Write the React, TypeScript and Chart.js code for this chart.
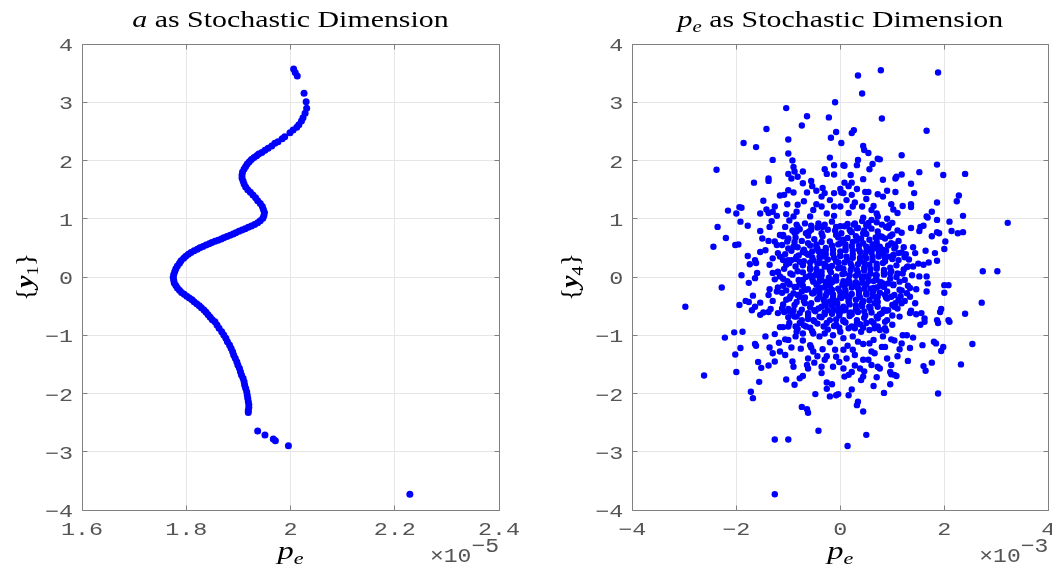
import React, { useEffect, useRef } from "react";
import { Chart, registerables } from "chart.js";

Chart.register(...registerables);

// ---- axes ----
const yTicks = [-4, -3, -2, -1, 0, 1, 2, 3, 4];
const yTickLabels = ["−4", "−3", "−2", "−1", "0", "1", "2", "3", "4"];

// left panel: p_e shown in units of 1e-5
const leftXTicks = [1.6, 1.8, 2.0, 2.2, 2.4];
const leftXTickLabels = ["1.6", "1.8", "2", "2.2", "2.4"];

// right panel: p_e shown in units of 1e-3
const rightXTicks = [-4, -2, 0, 2, 4];
const rightXTickLabels = ["−4", "−2", "0", "2", "4"];

// ---- samples ----
// a as stochastic dimension: (p_e ×1e-5, y1)
const curveA: [number, number][] = [
  [2.006, 3.571], [2.009, 3.511], [2.013, 3.451], [2.026, 3.154], [2.03, 3.009], [2.031, 2.896],
  [2.028, 2.81], [2.024, 2.735], [2.021, 2.678], [2.016, 2.615], [2.012, 2.57], [2.005, 2.524],
  [1.999, 2.477], [1.989, 2.409], [1.984, 2.374], [1.976, 2.323], [1.97, 2.295], [1.964, 2.249],
  [1.957, 2.209], [1.951, 2.175], [1.945, 2.137], [1.939, 2.112], [1.935, 2.082], [1.93, 2.052],
  [1.925, 2.017], [1.921, 1.979], [1.917, 1.94], [1.914, 1.897], [1.911, 1.854], [1.908, 1.803],
  [1.907, 1.751], [1.907, 1.7], [1.909, 1.648], [1.911, 1.597], [1.914, 1.545], [1.918, 1.499],
  [1.923, 1.454], [1.928, 1.408], [1.933, 1.361], [1.937, 1.31], [1.942, 1.262], [1.946, 1.21],
  [1.948, 1.159], [1.95, 1.107], [1.949, 1.056], [1.947, 1.008], [1.942, 0.967], [1.937, 0.932],
  [1.931, 0.901], [1.925, 0.876], [1.919, 0.853], [1.913, 0.829], [1.907, 0.807], [1.901, 0.785],
  [1.895, 0.761], [1.89, 0.738], [1.884, 0.716], [1.878, 0.695], [1.872, 0.675], [1.867, 0.652],
  [1.861, 0.632], [1.855, 0.613], [1.849, 0.591], [1.844, 0.57], [1.838, 0.548], [1.832, 0.525],
  [1.826, 0.501], [1.821, 0.477], [1.815, 0.45], [1.809, 0.421], [1.804, 0.391], [1.799, 0.357],
  [1.795, 0.321], [1.79, 0.28], [1.787, 0.237], [1.783, 0.189], [1.78, 0.141], [1.778, 0.093],
  [1.776, 0.043], [1.775, -0.005], [1.776, -0.055], [1.777, -0.103], [1.78, -0.148], [1.783, -0.189],
  [1.787, -0.228], [1.791, -0.264], [1.796, -0.297], [1.801, -0.33], [1.806, -0.361], [1.811, -0.391],
  [1.815, -0.426], [1.82, -0.46], [1.825, -0.494], [1.829, -0.53], [1.834, -0.567], [1.838, -0.606],
  [1.842, -0.647], [1.846, -0.69], [1.85, -0.733], [1.855, -0.767], [1.859, -0.824], [1.863, -0.881],
  [1.868, -0.939], [1.872, -0.996], [1.876, -1.052], [1.879, -1.111], [1.883, -1.167], [1.886, -1.224],
  [1.889, -1.282], [1.891, -1.339], [1.894, -1.396], [1.897, -1.454], [1.899, -1.511], [1.902, -1.567],
  [1.904, -1.626], [1.906, -1.682], [1.909, -1.739], [1.911, -1.797], [1.912, -1.854], [1.914, -1.911],
  [1.916, -1.969], [1.917, -2.026], [1.918, -2.082], [1.919, -2.137], [1.92, -2.189], [1.92, -2.24],
  [1.919, -2.292], [1.919, -2.326], [1.937, -2.644], [1.951, -2.712], [1.967, -2.781], [1.971, -2.81],
  [1.996, -2.896], [2.229, -3.73],
];

// p_e as stochastic dimension: (p_e ×1e-3, y4)
const cloudPe: [number, number][] = [
  // upper left
  [-1.04, 2.9], [-0.64, 2.76], [-0.22, 2.74], [-0.74, 2.6], [-1.42, 2.54], [-0.18, 2.39], [-1.0, 2.36],
  [-1.86, 2.3], [-1.62, 2.23], [-1.0, 2.12], [-0.2, 2.05], [-1.3, 2.01], [-0.92, 2.0], [-2.38, 1.84],
  [-0.9, 1.89], [-0.88, 1.81], [-0.72, 1.81], [-0.3, 1.85], [-0.26, 1.77], [-1.0, 1.77], [-0.94, 1.69],
  [-0.82, 1.72], [-1.38, 1.69], [-1.38, 1.65], [-1.66, 1.62], [-0.56, 1.65], [-0.54, 1.56], [-0.72, 1.61],
  [-0.34, 1.53], [-1.0, 1.49], [-0.9, 1.45], [-1.16, 1.4], [-1.08, 1.41], [-0.64, 1.45], [-0.36, 1.38],
  [-0.3, 1.44], [-1.48, 1.31], [-1.42, 1.16], [-1.02, 1.25], [-0.82, 1.24], [-1.26, 1.21], [-1.94, 1.2],
  [-1.9, 1.19], [-2.16, 1.14], [-2.0, 1.09], [-1.54, 1.09], [-1.38, 1.1], [-1.3, 1.12], [-0.46, 1.25],
  [-0.36, 1.21], [-0.52, 1.15], [-0.58, 1.04], [-0.26, 1.09], [-1.22, 1.05], [-1.04, 1.08], [-0.9, 1.04],
  [-1.92, 0.95], [-2.36, 0.86], [-1.78, 0.88], [-1.32, 0.96], [-1.36, 0.86], [-1.54, 0.79], [-2.2, 0.67],
  [-2.02, 0.55], [-1.96, 0.56], [-2.44, 0.52], [-1.5, 0.66], [-1.38, 0.62], [-1.26, 0.61], [-1.22, 0.55],
  [-1.02, 0.61], [-1.16, 0.72], [-1.1, 0.72], [-0.82, 0.86], [-0.84, 0.78], [-0.66, 0.75], [-0.56, 0.81],
  [-0.42, 0.92], [-0.34, 0.86], [-1.54, 0.43], [-1.44, 0.46], [-1.78, 0.36], [-1.64, 0.29], [-1.74, 0.22],
  [-1.62, 0.24], [-1.3, 0.32], [-1.36, 0.21], [-1.2, 0.41], [-1.1, 0.29], [-1.04, 0.21], [-0.9, 0.52],
  [-0.84, 0.35], [-0.94, 0.29], [-0.78, 0.26], [-0.72, 0.43], [-0.62, 0.38], [-0.52, 0.29], [-0.46, 0.52],
  [-0.36, 0.43], [-0.3, 0.35], [-0.4, 0.24], [-0.26, 0.18],
  // upper right
  [0.78, 3.55], [1.88, 3.51], [0.34, 3.46], [0.42, 3.15], [-0.1, 3.0], [0.8, 2.72], [1.66, 2.51],
  [-0.08, 2.49], [0.22, 2.47], [0.26, 2.52], [0.02, 2.3], [0.44, 2.25], [0.46, 2.18], [0.54, 2.13],
  [1.18, 2.09], [0.72, 2.03], [0.76, 2.02], [0.34, 2.01], [0.32, 1.92], [0.06, 1.92], [0.08, 1.91],
  [-0.12, 1.92], [0.62, 1.94], [0.56, 1.85], [1.86, 1.93], [1.52, 1.8], [2.4, 1.77], [1.98, 1.75],
  [-0.12, 1.76], [0.2, 1.75], [1.08, 1.72], [1.18, 1.76], [1.06, 1.69], [0.44, 1.68], [0.82, 1.67],
  [0.22, 1.62], [0.08, 1.62], [1.36, 1.6], [0.9, 1.48], [1.06, 1.46], [0.0, 1.51], [0.02, 1.45],
  [0.06, 1.44], [0.32, 1.51], [0.48, 1.46], [0.54, 1.46], [0.72, 1.42], [1.42, 1.44], [2.28, 1.4],
  [2.24, 1.3], [-0.12, 1.44], [0.22, 1.41], [0.12, 1.32], [0.28, 1.28], [0.24, 1.21], [-0.12, 1.21],
  [0.0, 1.21], [0.42, 1.21], [0.64, 1.22], [0.6, 1.15], [0.7, 1.09], [0.72, 1.04], [0.98, 1.25],
  [1.02, 1.16], [1.2, 1.22], [1.36, 1.25], [1.36, 1.2], [1.86, 1.28], [1.76, 1.12], [1.66, 1.04],
  [1.68, 1.02], [1.86, 0.98], [2.36, 1.05], [3.22, 0.93], [2.1, 0.95], [1.36, 0.84], [1.52, 0.79],
  [1.6, 0.88], [1.54, 0.86], [1.86, 0.77], [1.9, 0.75], [1.76, 0.7], [2.14, 0.79], [2.26, 0.75],
  [2.36, 0.77], [2.02, 0.61], [2.0, 0.48], [1.82, 0.41], [1.86, 0.28], [1.64, 0.45], [1.4, 0.51],
  [1.7, 0.25], [1.6, 0.21], [1.04, 0.56], [1.06, 0.52], [0.92, 0.84], [0.94, 0.89], [0.5, 0.89],
  [0.54, 0.93], [0.6, 0.98], [0.76, 0.7], [0.8, 0.69], [0.72, 0.69], [0.44, 0.75], [0.4, 0.66],
  [0.18, 0.81], [0.32, 0.84], [0.28, 0.92], [-0.08, 0.86], [0.02, 0.75], [0.06, 0.64], [0.64, 0.49],
  [0.76, 0.52], [0.92, 0.54], [0.82, 0.41], [0.92, 0.35], [1.02, 0.38], [1.12, 0.41], [1.18, 0.42],
  [1.24, 0.35], [1.32, 0.3], [1.28, 0.17], [1.4, 0.18],
  // lower left
  [-1.9, 0.03], [-2.28, -0.18], [-2.98, -0.51], [-1.76, -0.1], [-1.64, -0.02], [-1.6, 0.07], [-1.94, -0.48],
  [-1.82, -0.41], [-1.76, -0.43], [-1.68, -0.32], [-1.7, -0.57], [-1.64, -0.51], [-1.54, -0.44], [-1.54, -0.65],
  [-1.48, -0.61], [-1.38, -0.6], [-1.34, -0.55], [-1.36, -0.21], [-1.38, -0.31], [-1.3, -0.41], [-1.22, -0.25],
  [-1.2, -0.18], [-1.26, -0.04], [-1.16, 0.01], [-1.1, -0.15], [-1.3, 0.07], [-1.2, 0.09], [-1.1, -0.47],
  [-1.2, -0.62], [-1.08, -0.6], [-1.0, -0.55], [-1.0, -0.69], [-1.16, -0.86], [-1.1, -0.86], [-1.0, -0.85],
  [-2.04, -0.95], [-1.88, -0.94], [-2.22, -1.04], [-1.92, -1.22], [-2.02, -1.33], [-2.0, -1.63], [-2.62, -1.69],
  [-1.64, -1.15], [-1.62, -1.18], [-1.58, -1.46], [-1.52, -1.56], [-1.38, -1.52], [-1.26, -1.45], [-1.44, -1.02],
  [-1.26, -0.98], [-1.18, -1.13], [-1.36, -1.21], [-1.3, -1.31], [-1.16, -1.28], [-1.06, -1.07], [-1.0, -1.08],
  [-0.94, -1.21], [-1.56, -1.8], [-1.72, -1.97], [-1.68, -2.08], [-1.04, -1.76], [-0.88, -1.85], [-0.92, -1.45],
  [-0.9, -1.54], [-0.78, -1.74], [-0.72, -1.7], [-0.64, -1.51], [-0.62, -1.57], [-0.5, -1.47], [-0.36, -1.54],
  [-0.36, -1.65], [-0.76, -1.23], [-0.72, -1.09], [-0.58, -1.17], [-0.52, -1.28], [-0.56, -1.21], [-0.34, -1.24],
  [-0.3, -1.42], [-0.26, -1.36], [-0.48, -2.01], [-0.26, -1.81], [-0.26, -1.92], [-0.74, -2.23], [-0.64, -2.27],
  [-0.62, -2.33], [-1.26, -2.79], [-1.0, -2.79], [-0.42, -2.64], [-1.26, -3.73],
  [-0.9, -0.57], [-0.84, -0.68], [-0.78, -0.79], [-0.84, -0.94], [-0.72, -0.97], [-0.66, -0.85], [-0.52, -0.74],
  [-0.4, -0.68], [-0.26, -0.79], [-0.3, -0.97], [-0.4, -1.02], [-0.52, -0.97], [-0.62, -0.62], [-0.5, -0.57],
  [-0.36, -0.51], [-0.24, -0.57], [-0.68, -0.45], [-0.78, -0.34], [-0.66, -0.22], [-0.52, -0.28], [-0.4, -0.22],
  [-0.26, -0.28], [-0.84, -0.17], [-0.72, -0.05], [-0.58, 0.03], [-0.4, 0.01], [-0.26, -0.08], [-0.98, -0.11],
  [-0.9, -0.28], [-1.04, -0.39],
  // lower right
  [2.74, 0.1], [3.02, 0.1], [2.0, -0.14], [2.08, -0.14], [2.0, -0.27], [1.66, -0.25], [2.72, -0.44],
  [2.4, -0.63], [1.94, -0.55], [1.92, -0.6], [1.86, -0.74], [1.88, -0.79], [2.08, -0.74], [2.1, -0.77],
  [1.62, -0.71], [1.62, -0.77], [1.54, -0.82], [1.56, -0.62], [1.46, -0.64], [1.34, -0.62], [1.36, -0.58],
  [2.54, -1.15], [2.32, -1.5], [1.8, -1.11], [1.84, -1.14], [1.98, -1.2], [1.94, -1.27], [1.58, -1.17],
  [1.4, -1.04], [1.34, -1.22], [1.76, -1.47], [1.6, -1.53], [1.64, -1.61], [1.88, -2.0], [1.3, -1.44],
  [1.1, -1.36], [0.98, -1.51], [0.96, -1.63], [1.04, -1.68], [1.08, -1.7], [0.98, -1.67], [0.96, -1.84],
  [0.84, -1.99], [0.64, -1.87], [0.72, -1.54], [0.76, -1.57], [0.7, -1.72], [0.6, -1.51], [0.54, -1.42],
  [0.66, -1.31], [0.34, -2.14], [0.32, -2.2], [0.44, -2.31], [0.5, -2.71], [0.14, -2.9], [0.22, -1.93],
  [0.16, -2.03], [-0.08, -2.03], [-0.04, -2.01], [-0.2, -2.05], [-0.16, -1.84], [0.08, -1.71], [0.16, -1.68],
  [0.22, -1.63], [0.4, -1.77], [0.44, -1.71], [0.38, -1.57], [0.44, -1.42], [0.06, -1.57], [-0.14, -1.54],
  [-0.08, -1.37], [0.12, -1.4], [0.28, -1.34], [0.24, -1.25], [0.06, -1.25], [-0.1, -1.25], [0.8, -1.2],
  [0.86, -1.2], [0.98, -1.07], [1.04, -1.09], [1.18, -1.14], [1.2, -1.0], [1.28, -1.0], [0.82, -1.02],
  [0.64, -1.08], [0.56, -1.14], [0.44, -1.15], [0.34, -1.11], [0.76, -0.91], [0.86, -0.88], [0.66, -0.88],
  [0.64, -0.79], [0.86, -0.77], [0.7, -0.68], [0.8, -0.62], [0.92, -0.57], [1.04, -0.51], [1.18, -0.45],
  [1.12, -0.39], [0.98, -0.34], [0.86, -0.31], [0.72, -0.34], [0.66, -0.45], [0.56, -0.51], [1.28, -0.28],
  [1.34, -0.34], [1.44, -0.45], [1.52, 0.01], [1.66, 0.01], [1.68, -0.11], [1.34, -0.19], [1.14, -0.22],
  [1.02, -0.14], [0.82, -0.11], [0.64, -0.19], [0.5, -0.28], [0.44, -0.42], [0.32, -0.57], [0.18, -0.62],
  [0.06, -0.74], [-0.08, -0.82], [-0.14, -1.0], [0.06, -1.05], [0.24, -1.02], [0.4, -0.94], [0.5, -0.79],
  [0.32, -0.79], [0.16, -0.88], [0.0, -0.6], [-0.14, -0.45], [0.0, -0.34], [0.18, -0.34], [0.32, -0.14],
  [0.12, -0.11], [-0.08, -0.05], [0.5, 0.01], [0.7, 0.03], [0.96, 0.06], [1.2, 0.06],
  // dense core
  [-0.98, 0.97], [-0.68, 0.92], [-0.16, 0.95], [0.14, 0.91], [0.42, 0.96], [0.7, 0.94], [1.0, 0.93],
  [-1.06, 0.86], [-0.78, 0.82], [-0.44, 0.85], [-0.24, 0.81], [0.08, 0.87], [0.34, 0.84], [0.6, 0.83], [0.88, 0.86],
  [-0.88, 0.76], [-0.62, 0.71], [-0.36, 0.75], [-0.08, 0.72], [0.22, 0.77], [0.5, 0.74], [1.0, 0.73], [1.18, 0.76],
  [-1.0, 0.66], [-0.74, 0.62], [-0.5, 0.65], [-0.2, 0.61], [0.14, 0.67], [0.32, 0.63], [0.56, 0.64], [0.86, 0.66], [1.12, 0.62],
  [-1.12, 0.55], [-0.82, 0.51], [-0.58, 0.54], [-0.28, 0.5], [-0.04, 0.56], [0.22, 0.53], [0.5, 0.52], [0.7, 0.55], [1.22, 0.51],
  [-0.94, 0.45], [-0.66, 0.41], [-0.42, 0.44], [-0.14, 0.4], [0.1, 0.46], [0.38, 0.43], [0.6, 0.42], [0.88, 0.45], [1.44, 0.41],
  [-1.16, 0.35], [-0.86, 0.31], [-0.54, 0.34], [-0.24, 0.3], [0.0, 0.36], [0.24, 0.33], [0.5, 0.32], [0.74, 0.35], [1.0, 0.31], [1.24, 0.34],
  [-0.98, 0.24], [-0.72, 0.2], [-0.44, 0.23], [-0.16, 0.19], [0.08, 0.25], [0.34, 0.22], [0.56, 0.21], [0.82, 0.24], [1.08, 0.2], [1.5, 0.23],
  [-1.08, 0.14], [-0.82, 0.1], [-0.58, 0.13], [-0.36, 0.09], [-0.04, 0.15], [0.2, 0.12], [0.46, 0.11], [0.7, 0.14], [0.98, 0.1], [1.22, 0.13],
  [-0.92, 0.04], [-0.66, 0.0], [-0.48, 0.03], [-0.22, -0.01], [0.04, 0.05], [0.3, 0.02], [0.54, 0.01], [0.84, 0.04], [1.08, 0.0], [1.38, 0.03],
  [-1.02, -0.07], [-0.78, -0.11], [-0.52, -0.08], [-0.28, -0.12], [-0.08, -0.06], [0.18, -0.09], [0.42, -0.1], [0.64, -0.07], [0.92, -0.11], [1.14, -0.08],
  [-0.88, -0.17], [-0.62, -0.21], [-0.4, -0.18], [-0.16, -0.22], [0.08, -0.16], [0.34, -0.19], [0.58, -0.2], [0.84, -0.17], [1.46, -0.21],
  [-1.12, -0.27], [-0.82, -0.31], [-0.54, -0.28], [-0.28, -0.32], [0.0, -0.26], [0.22, -0.29], [0.5, -0.3], [0.76, -0.27], [1.04, -0.31],
  [-0.98, -0.37], [-0.7, -0.41], [-0.44, -0.38], [-0.2, -0.42], [0.02, -0.36], [0.3, -0.39], [0.56, -0.4], [0.9, -0.37], [1.24, -0.41],
  [-0.88, -0.48], [-0.58, -0.52], [-0.28, -0.49], [-0.04, -0.53], [0.18, -0.47], [0.42, -0.5], [0.72, -0.51], [1.0, -0.48],
  [-1.0, -0.58], [-0.78, -0.62], [-0.48, -0.59], [-0.16, -0.63], [0.08, -0.57], [0.34, -0.6], [0.6, -0.61], [0.88, -0.58],
  [-0.88, -0.68], [-0.62, -0.72], [-0.36, -0.69], [-0.08, -0.73], [0.18, -0.67], [0.46, -0.7], [0.72, -0.71], [1.14, -0.68],
  [-0.98, -0.79], [-0.7, -0.83], [-0.44, -0.8], [-0.12, -0.84], [0.1, -0.78], [0.38, -0.81], [1.0, -0.82],
  [-0.82, -0.89], [-0.54, -0.93], [-0.24, -0.9], [0.0, -0.94], [0.28, -0.88], [0.56, -0.91], [0.88, -0.92],
  // core, second layer
  [-0.84, 0.9], [-0.56, 0.88], [-0.3, 0.9], [0.0, 0.87], [0.26, 0.9], [0.54, 0.88], [0.8, 0.9],
  [-0.92, 0.8], [-0.6, 0.78], [-0.1, 0.8], [0.2, 0.78], [0.46, 0.8], [0.72, 0.78], [1.1, 0.8],
  [-1.1, 0.7], [-0.86, 0.68], [-0.34, 0.7], [-0.04, 0.68], [0.3, 0.7], [0.68, 0.68], [0.96, 0.7],
  [-0.88, 0.6], [-0.62, 0.58], [-0.36, 0.6], [0.0, 0.58], [0.24, 0.6], [0.44, 0.58], [0.7, 0.6], [0.98, 0.58],
  [-1.0, 0.49], [-0.7, 0.47], [-0.44, 0.49], [-0.14, 0.47], [0.1, 0.5], [0.36, 0.47], [0.6, 0.49], [0.82, 0.47], [1.04, 0.49],
  [-1.06, 0.39], [-0.8, 0.37], [-0.28, 0.39], [0.0, 0.37], [0.24, 0.39], [0.48, 0.37], [0.74, 0.39], [1.02, 0.37], [1.26, 0.39],
  [-1.0, 0.29], [-0.7, 0.27], [-0.4, 0.29], [-0.08, 0.27], [0.14, 0.29], [0.38, 0.27], [0.62, 0.29], [0.86, 0.27], [1.12, 0.29],
  [-0.86, 0.18], [-0.58, 0.16], [-0.3, 0.18], [0.0, 0.16], [0.22, 0.18], [0.46, 0.16], [0.7, 0.18], [0.96, 0.16], [1.3, 0.18],
  [-1.2, 0.08], [-0.96, 0.06], [-0.72, 0.08], [-0.46, 0.06], [-0.18, 0.08], [0.08, 0.06], [0.34, 0.08], [0.58, 0.06], [0.84, 0.08], [1.1, 0.06],
  [-1.1, -0.03], [-0.8, -0.05], [-0.54, -0.03], [-0.36, -0.05], [-0.1, -0.03], [0.16, -0.05], [0.42, -0.03], [0.7, -0.05], [0.96, -0.03], [1.24, -0.05],
  [-0.98, -0.13], [-0.72, -0.15], [-0.46, -0.13], [-0.2, -0.15], [0.04, -0.13], [0.28, -0.15], [0.5, -0.13], [0.76, -0.15], [1.02, -0.13], [1.3, -0.15],
  [-1.04, -0.23], [-0.74, -0.25], [-0.48, -0.23], [-0.22, -0.25], [0.1, -0.23], [0.36, -0.25], [0.64, -0.23], [0.9, -0.25], [1.18, -0.23],
  [-0.96, -0.33], [-0.68, -0.35], [-0.4, -0.33], [-0.14, -0.35], [0.12, -0.33], [0.38, -0.35], [0.62, -0.33], [0.88, -0.35], [1.16, -0.33],
  [-0.84, -0.43], [-0.56, -0.45], [-0.3, -0.43], [-0.06, -0.45], [0.16, -0.43], [0.42, -0.45], [0.72, -0.43], [1.06, -0.45],
  [-1.12, -0.54], [-0.74, -0.56], [-0.42, -0.54], [-0.12, -0.56], [0.1, -0.54], [0.3, -0.56], [0.58, -0.54], [0.84, -0.56], [1.1, -0.54],
  [-0.92, -0.64], [-0.62, -0.66], [-0.3, -0.64], [-0.02, -0.66], [0.22, -0.64], [0.48, -0.66], [0.76, -0.64], [1.0, -0.66],
  [-0.74, -0.74], [-0.5, -0.76], [-0.2, -0.74], [0.06, -0.76], [0.32, -0.74], [0.6, -0.76], [0.9, -0.74],
  [-0.86, -0.85], [-0.58, -0.87], [-0.32, -0.85], [-0.02, -0.87], [0.22, -0.85], [0.44, -0.87], [0.72, -0.85],
  // core, inner layer
  [-0.46, 0.56], [-0.16, 0.54], [0.1, 0.56], [0.36, 0.54], [0.62, 0.56],
  [-0.54, 0.44], [-0.28, 0.46], [0.0, 0.44], [0.24, 0.46], [0.5, 0.44], [0.74, 0.46],
  [-0.4, 0.35], [-0.12, 0.33], [0.12, 0.35], [0.38, 0.33], [0.62, 0.35], [0.86, 0.33],
  [-0.58, 0.25], [-0.3, 0.23], [-0.04, 0.25], [0.2, 0.23], [0.46, 0.25], [0.7, 0.23],
  [-0.46, 0.14], [-0.2, 0.12], [0.06, 0.14], [0.32, 0.12], [0.58, 0.14], [0.84, 0.12],
  [-0.36, 0.03], [-0.08, 0.01], [0.18, 0.03], [0.42, 0.01], [0.68, 0.03],
  [-0.4, -0.07], [-0.16, -0.09], [0.06, -0.07], [0.3, -0.09], [0.54, -0.07], [0.78, -0.09],
  [-0.3, -0.18], [-0.04, -0.2], [0.22, -0.18], [0.46, -0.2], [0.7, -0.18],
  [-0.4, -0.28], [-0.14, -0.3], [0.1, -0.28], [0.36, -0.3], [0.62, -0.28],
  [-0.32, -0.39], [-0.08, -0.41], [0.16, -0.39], [0.44, -0.41], [0.7, -0.39],
  [-0.16, -0.49], [0.06, -0.51], [0.3, -0.49], [0.56, -0.51],
  [-0.3, -0.61], [-0.04, -0.59], [0.2, -0.61], [0.46, -0.59],
  // shoulders of the core
  [-0.12, 1.05], [0.16, 1.1], [0.44, 1.02], [-0.7, 1.3], [-0.2, 1.32], [0.5, 1.34], [0.82, 1.38], [-0.46, 1.48],
  [0.16, 1.56], [-0.84, 1.12], [1.1, 1.1], [0.9, 1.0],
  [-0.86, -1.02], [-0.2, -1.12], [0.14, -1.18], [0.6, -1.28], [-0.44, -1.36], [-0.02, -1.46], [0.28, -1.52],
  [-0.62, -1.4], [0.9, -1.4], [1.14, -1.24], [-1.06, -1.34], [0.46, -1.62],
];

// ---- drawing helpers ----
const SERIF = '"Liberation Serif", "Times New Roman", serif';
const MONO = '"Liberation Mono", "Courier New", monospace';
const AXIS_COLOR = "#808080";
const TICK_TEXT = "#555555";
const DOT_BLUE = "#0000ff";

type Run = { text: string; font: string; dy?: number };

function runsWidth(ctx: CanvasRenderingContext2D, runs: Run[]) {
  let w = 0;
  for (const r of runs) {
    ctx.font = r.font;
    w += ctx.measureText(r.text).width;
  }
  return w;
}

function drawRuns(
  ctx: CanvasRenderingContext2D,
  runs: Run[],
  x: number,
  y: number,
  align: "left" | "center" | "right",
  stretch: number,
  color: string
) {
  const w = runsWidth(ctx, runs) * stretch;
  const start = align === "center" ? x - w / 2 : align === "right" ? x - w : x;
  ctx.save();
  ctx.translate(start, y);
  ctx.scale(stretch, 1);
  ctx.fillStyle = color;
  ctx.textAlign = "left";
  ctx.textBaseline = "alphabetic";
  let cx = 0;
  for (const r of runs) {
    ctx.font = r.font;
    ctx.fillText(r.text, cx, r.dy ?? 0);
    cx += ctx.measureText(r.text).width;
  }
  ctx.restore();
}

const align = (v: number) => Math.round(v - 0.5) + 0.5;

type Panel = {
  points: [number, number][];
  radius: number;
  xMin: number;
  xMax: number;
  xTicks: number[];
  xTickLabels: string[];
  exponent: string;
  title: Run[];
  ySub: string;
  yLabelOffset: number;
  padding: { left: number; right: number; top: number; bottom: number };
};

const TITLE_SIZE = 23;
const STRETCH = 1.3;

const leftPanel: Panel = {
  points: curveA,
  radius: 3.5,
  xMin: 1.6,
  xMax: 2.4,
  xTicks: leftXTicks,
  xTickLabels: leftXTickLabels,
  exponent: "−5",
  title: [
    { text: "a", font: `italic ${TITLE_SIZE}px ${SERIF}` },
    { text: " as Stochastic Dimension", font: `${TITLE_SIZE}px ${SERIF}` },
  ],
  ySub: "1",
  yLabelOffset: 56,
  padding: { left: 82, right: 27, top: 44, bottom: 59 },
};

const rightPanel: Panel = {
  points: cloudPe,
  radius: 3.2,
  xMin: -4,
  xMax: 4,
  xTicks: rightXTicks,
  xTickLabels: rightXTickLabels,
  exponent: "−3",
  title: [
    { text: "p", font: `italic ${TITLE_SIZE}px ${SERIF}` },
    { text: "e", font: `italic 16px ${SERIF}`, dy: 5 },
    { text: " as Stochastic Dimension", font: `${TITLE_SIZE}px ${SERIF}` },
  ],
  ySub: "4",
  yLabelOffset: 61,
  padding: { left: 106.3, right: 3.7, top: 44, bottom: 59 },
};

function decorPlugin(p: Panel) {
  return {
    id: "axesDecor",
    beforeDatasetsDraw(chart: any) {
      const { ctx, chartArea: a, scales } = chart;
      const L = align(a.left);
      const R = align(a.right);
      const T = align(a.top);
      const B = align(a.bottom);
      ctx.save();
      ctx.strokeStyle = AXIS_COLOR;
      ctx.lineWidth = 1;
      ctx.beginPath();
      ctx.rect(L, T, R - L, B - T);
      const tl = 5;
      for (const v of p.xTicks) {
        const x = align(scales.x.getPixelForValue(v));
        ctx.moveTo(x, B);
        ctx.lineTo(x, B - tl);
        ctx.moveTo(x, T);
        ctx.lineTo(x, T + tl);
      }
      for (const v of yTicks) {
        const y = align(scales.y.getPixelForValue(v));
        ctx.moveTo(L, y);
        ctx.lineTo(L + tl, y);
        ctx.moveTo(R, y);
        ctx.lineTo(R - tl, y);
      }
      ctx.stroke();
      ctx.restore();
    },
    afterDraw(chart: any) {
      const { ctx, chartArea: a, scales } = chart;
      const mono = `18px ${MONO}`;
      // tick labels
      p.xTicks.forEach((v, i) => {
        const x = scales.x.getPixelForValue(v);
        drawRuns(ctx, [{ text: p.xTickLabels[i], font: mono }], x, a.bottom + 25, "center", STRETCH, TICK_TEXT);
      });
      yTicks.forEach((v, i) => {
        const y = scales.y.getPixelForValue(v);
        drawRuns(ctx, [{ text: yTickLabels[i], font: mono }], a.left - 9, y + 7, "right", STRETCH, TICK_TEXT);
      });
      // exponent
      const expFont = `20px ${MONO}`;
      drawRuns(
        ctx,
        [
          { text: "×10", font: expFont },
          { text: p.exponent, font: expFont, dy: -10 },
        ],
        a.right,
        a.bottom + 52,
        "right",
        1.15,
        TICK_TEXT
      );
      const cx = (a.left + a.right) / 2;
      // title
      drawRuns(ctx, p.title, cx, 27, "center", STRETCH, "#000");
      // x label
      drawRuns(
        ctx,
        [
          { text: "p", font: `italic 25px ${SERIF}` },
          { text: "e", font: `italic 17px ${SERIF}`, dy: 5 },
        ],
        cx,
        a.bottom + 49,
        "center",
        STRETCH,
        "#000"
      );
      // y label, rotated
      ctx.save();
      ctx.translate(a.left - p.yLabelOffset, (a.top + a.bottom) / 2);
      ctx.rotate(-Math.PI / 2);
      drawRuns(
        ctx,
        [
          { text: "{", font: `25px ${SERIF}` },
          { text: "y", font: `italic bold 25px ${SERIF}` },
          { text: p.ySub, font: `17px ${SERIF}`, dy: 5 },
          { text: "}", font: `25px ${SERIF}` },
        ],
        0,
        7,
        "center",
        1.1,
        "#000"
      );
      ctx.restore();
    },
  };
}

function makeChart(canvas: HTMLCanvasElement, p: Panel) {
  return new Chart(canvas, {
    type: "scatter",
    data: {
      datasets: [
        {
          data: p.points.map(([x, y]) => ({ x, y })),
          backgroundColor: DOT_BLUE,
          borderColor: DOT_BLUE,
          pointRadius: p.radius,
          pointBorderWidth: 0,
          pointHoverRadius: p.radius,
        },
      ],
    },
    options: {
      animation: false,
      responsive: false,
      maintainAspectRatio: false,
      devicePixelRatio: 1,
      events: [],
      layout: { padding: p.padding },
      plugins: {
        legend: { display: false },
        tooltip: { enabled: false },
        title: { display: false },
      },
      scales: {
        x: {
          type: "linear",
          min: p.xMin,
          max: p.xMax,
          afterBuildTicks: (s: any) => {
            s.ticks = p.xTicks.map((value) => ({ value }));
          },
          ticks: { display: false },
          grid: { color: "#e6e6e6", lineWidth: 1, drawTicks: false },
          border: { display: false },
        },
        y: {
          type: "linear",
          min: -4,
          max: 4,
          afterBuildTicks: (s: any) => {
            s.ticks = yTicks.map((value) => ({ value }));
          },
          ticks: { display: false },
          grid: { color: "#e6e6e6", lineWidth: 1, drawTicks: false },
          border: { display: false },
        },
      },
    },
    plugins: [decorPlugin(p)],
  } as any);
}

export default function App() {
  const leftRef = useRef<HTMLCanvasElement>(null);
  const rightRef = useRef<HTMLCanvasElement>(null);

  useEffect(() => {
    const charts = [makeChart(leftRef.current!, leftPanel), makeChart(rightRef.current!, rightPanel)];
    return () => charts.forEach((c) => c.destroy());
  }, []);

  return (
    <div style={{ position: "absolute", left: 0, top: 0, width: 1052, height: 569, background: "#fff" }}>
      <canvas ref={leftRef} width={526} height={569} style={{ position: "absolute", left: 0, top: 0 }} />
      <canvas ref={rightRef} width={526} height={569} style={{ position: "absolute", left: 526, top: 0 }} />
    </div>
  );
}
